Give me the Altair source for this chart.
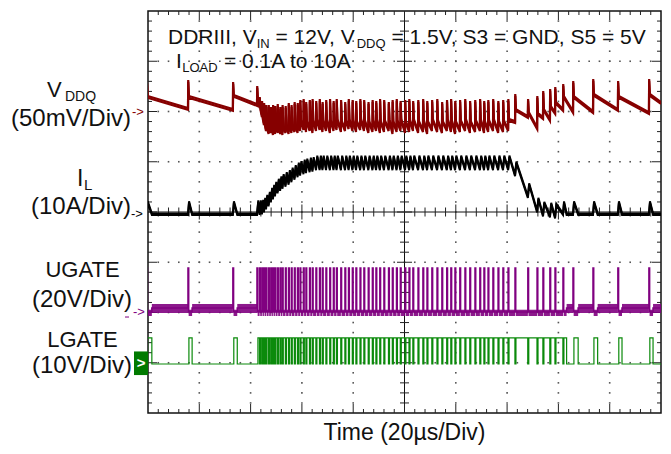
import altair as alt
import pandas as pd

# ---------------- scope settings ----------------
T_DOMAIN = [0, 200]          # µs (20 µs/div, 10 div)
Y_DOMAIN = [0, 8]            # divisions
US_PER_DIV = 20

VDDQ_REF, VDDQ_PER_DIV = 5.99, 50.0   # mV/div
IL_REF, IL_PER_DIV = 3.96, 10.0       # A/div
UG_REF, UG_PER_DIV = 2.01, 20.0       # V/div
LG_REF, LG_PER_DIV = 0.975, 10.0      # V/div

# ---------------- values ----------------
# UGATE pulse instants (µs)
pulse_t = [-0.5, 15.6, 33.1, 42.5, 43.5, 44.4, 45.2, 46.0, 47.0, 47.9, 48.7, 49.5,
           50.5, 51.5, 52.4, 53.6, 54.8, 55.9, 57.1, 58.3, 59.3, 60.6, 61.6, 63.0,
           64.1, 65.5, 66.9, 68.0, 69.4, 70.9, 72.3, 73.5, 75.2, 76.8, 78.2, 79.7,
           81.1, 82.7, 84.2, 85.9, 87.5, 88.9, 90.4, 92.0, 93.8, 95.3, 96.9, 98.4,
           100.2, 101.8, 103.3, 105.3, 107.2, 108.8, 110.7, 112.7, 114.6, 116.5, 118.1, 119.7,
           121.6, 123.6, 125.5, 127.5, 129.4, 131.0, 132.6, 134.5, 136.5, 138.4, 140.4, 143.1,
           148.1, 151.7, 154.0, 156.7, 158.7, 161.8, 165.7, 173.5, 183.2, 195.3]

# inductor current level at each pulse (A)
il_mean = [0, 0, 0, 1.3, 1.3, 1.4, 1.8, 2.4, 3.0, 3.8, 4.4, 5.0,
           5.6, 6.1, 6.5, 6.9, 7.3, 7.8, 8.3, 8.8, 9.1, 9.4, 9.6, 9.8,
           9.9, 10.2, 10.2, 10.2, 10.2, 10.2, 10.2, 10.2, 10.2, 10.2, 10.2, 10.2,
           10.2, 10.2, 10.2, 10.2, 10.2, 10.2, 10.2, 10.2, 10.2, 10.2, 10.2, 10.2,
           10.2, 10.2, 10.2, 10.2, 10.2, 10.2, 10.2, 10.2, 10.2, 10.2, 10.2, 10.2,
           10.2, 10.2, 10.2, 10.2, 10.2, 10.2, 10.2, 10.2, 10.2, 10.2, 10.2, 9.0,
           4.7, 1.8, 1.0, 0.8, 0.6, 0, 0, 0, 0, 0]

# LGATE on-time after each pulse (µs); 99 = stays on until the next pulse
lg_on = [2.0, 1.6, 1.7, 99, 99, 99, 99, 99, 99, 99, 99, 99,
         99, 99, 99, 99, 99, 99, 99, 99, 99, 99, 99, 99,
         99, 99, 99, 99, 99, 99, 99, 99, 99, 99, 99, 99,
         99, 99, 99, 99, 99, 99, 99, 99, 99, 99, 99, 99,
         99, 99, 99, 99, 99, 99, 99, 99, 99, 99, 99, 99,
         99, 99, 99, 99, 99, 99, 99, 99, 99, 99, 99, 99,
         99, 99, 99, 99, 99, 1.4, 2.0, 1.8, 1.6, 1.6]

# VDDQ deviation (mV): just before each pulse, spike top, just after the spike
vddq_pre = [5, 3, 2, 7, 5, -4, -12, -18,
            -21, -20, -22, -21, -20, -21, -22, -20, -21, -20, -19, -20,
            -18, -17, -19, -18, -20, -18, -17, -19, -18, -20,
            -18, -17, -19, -18, -16, -18, -19, -17, -18, -20,
            -19, -18, -20, -19, -18, -21, -19, -18, -20, -19,
            -18, -20, -19, -21, -18, -19, -20, -18, -19, -21,
            -19, -18, -20, -19, -18, -20, -19, -18, -20, -19, -18,
            -10, -5, -16, -6, -8, -1, 2, 0, 0, 2, -1]
vddq_pk = [30, 31, 29, 25, 14, 10, 8, 6,
           6, 4, 6, 5, 7, 4, 6, 5, 8, 6, 9, 8,
           11, 12, 9, 11, 12, 10, 12, 9, 11, 12,
           10, 12, 11, 9, 12, 11, 10, 12, 11, 9,
           11, 10, 12, 11, 9, 11, 12, 10, 11, 12,
           10, 11, 12, 10, 11, 12, 9, 11, 12, 10,
           11, 12, 10, 11, 12, 10, 11, 12, 10, 11, 12,
           17, 12, 15, 20, 22, 24, 27, 30, 32, 30, 32]
vddq_post = [15, 15, 16, 12, 3, -6, -12, -15,
             -14, -14, -15, -14, -13, -14, -15, -14, -13, -14, -13, -12,
             -9, -8, -10, -9, -9, -8, -10, -9, -8, -9,
             -9, -8, -10, -9, -8, -9, -10, -8, -9, -10,
             -9, -8, -10, -9, -8, -10, -9, -8, -10, -9,
             -8, -10, -9, -10, -8, -9, -10, -8, -9, -10,
             -9, -8, -10, -9, -8, -10, -9, -8, -10, -9, -8,
             2, -1, -2, 2, 5, 9, 15, 15, 17, 15, 17]
VDDQ_END = 9

UG_HIGH = 17.5       # V
UG_DCM_BASE = 1.6    # V (phase node floating at light load)
LG_HIGH = 5.2        # V
IL_RIPPLE = 1.3      # A (half peak-to-peak)
IL_DCM_PEAK = 2.4    # A

C_VDDQ, C_IL, C_UG, C_LG = "#860000", "#000000", "#800080", "#0b8a0b"
FONT = "Liberation Sans"

# ---------------- build traces from the pulse table ----------------
N = len(pulse_t)
UG_W = 0.25

vt, vv = [], []
it, iv = [], []
ut, uv = [], []
lt, lv = [], []
bands = []
for i in range(N):
    t = pulse_t[i]
    tn = pulse_t[i + 1] if i + 1 < N else T_DOMAIN[1]
    dcm = lg_on[i] < 99 and t + lg_on[i] < tn
    # VDDQ
    vt += [t, t + 0.08, t + 0.35]
    vv += [vddq_pre[i], vddq_pk[i], vddq_post[i]]
    # IL
    if lg_on[i] >= 99:
        it += [t, t + 0.5]
        iv += [il_mean[i] - IL_RIPPLE, il_mean[i] + IL_RIPPLE]
    else:
        it += [t, t + 0.4, t + lg_on[i]]
        iv += [0, IL_DCM_PEAK, 0]
    # UGATE
    prev = uv[-1] if uv else UG_DCM_BASE
    ut += [t, t, t + UG_W, t + UG_W]
    uv += [prev, UG_HIGH, UG_HIGH, 0]
    if dcm:
        te = t + lg_on[i]
        ut += [te, te]
        uv += [0, UG_DCM_BASE]
        bands.append((t + UG_W, te, -1.6, 0.9))
        bands.append((te, tn, -0.4, 3.2))
    else:
        bands.append((t + UG_W, tn, -1.6, 0.9))
    # LGATE
    prevl = lv[-1] if lv else 0
    t0, t1 = t - 0.05, t + UG_W + 0.1
    lt += [t0, t0, t1, t1]
    lv += [prevl, 0, 0, LG_HIGH]
    if dcm:
        te = t + lg_on[i]
        lt += [te, te]
        lv += [LG_HIGH, 0]

vt.append(T_DOMAIN[1]); vv.append(VDDQ_END)
it.append(T_DOMAIN[1]); iv.append(0)
ut.append(T_DOMAIN[1]); uv.append(uv[-1])
lt.append(T_DOMAIN[1]); lv.append(lv[-1])


def trace_df(ts, vals, ref, per_div):
    return pd.DataFrame({"t": ts, "y": [ref + v / per_div for v in vals], "i": range(len(ts))})


df_v = trace_df(vt, vv, VDDQ_REF, VDDQ_PER_DIV)
df_i = trace_df(it, iv, IL_REF, IL_PER_DIV)
df_u = trace_df(ut, uv, UG_REF, UG_PER_DIV)
df_l = trace_df(lt, lv, LG_REF, LG_PER_DIV)
df_b = pd.DataFrame({"t": [b[0] for b in bands], "t2": [b[1] for b in bands],
                     "y": [UG_REF + b[2] / UG_PER_DIV for b in bands],
                     "y2": [UG_REF + b[3] / UG_PER_DIV for b in bands]})

xs = alt.Scale(domain=T_DOMAIN, nice=False, zero=False)
ys = alt.Scale(domain=Y_DOMAIN, nice=False, zero=False)
X = lambda f: alt.X(f, type="quantitative", scale=xs, axis=None)
Y = lambda f: alt.Y(f, type="quantitative", scale=ys, axis=None)


def trace(df, color, sw, dy=0):
    return alt.Chart(df).mark_line(color=color, strokeWidth=sw, clip=True, yOffset=dy).encode(
        x=X("t"), y=Y("y"), order=alt.Order("i:Q"))


# ---------------- graticule ----------------
dots = []
for k in range(1, 10):
    if k != 5:
        dots += [(k * US_PER_DIV, j * 0.2) for j in range(1, 40)]
for k in range(1, 8):
    if k != 4:
        dots += [(j * US_PER_DIV / 5, k) for j in range(1, 50)]
df_dots = pd.DataFrame(dots, columns=["t", "y"])

ticks_v = []   # vertical ticks (along horizontal lines)
for yline, minor, major in [(4, 9, 15), (0, 8, 18), (8, 8, 18)]:
    for j in range(1, 50):
        ticks_v.append((j * US_PER_DIV / 5, yline, major if j % 5 == 0 else minor))
ticks_h = []   # horizontal ticks (along vertical lines)
for xline, minor, major in [(100, 9, 15), (0, 8, 18), (200, 8, 18)]:
    for j in range(1, 40):
        ticks_h.append((xline, j * 0.2, major if j % 5 == 0 else minor))
df_tv = pd.DataFrame(ticks_v, columns=["t", "y", "s"])
df_th = pd.DataFrame(ticks_h, columns=["t", "y", "s"])

GR = "#222222"
dots_l = alt.Chart(df_dots).mark_square(size=2.6, color="#555555", opacity=1).encode(x=X("t"), y=Y("y"))
tv_l = alt.Chart(df_tv).mark_tick(orient="vertical", color=GR, thickness=1, opacity=1, clip=True).encode(
    x=X("t"), y=Y("y"), size=alt.Size("s:Q", scale=None, legend=None))
th_l = alt.Chart(df_th).mark_tick(orient="horizontal", color=GR, thickness=1, opacity=1, clip=True).encode(
    x=X("t"), y=Y("y"), size=alt.Size("s:Q", scale=None, legend=None))
cross_df = pd.DataFrame({"t": [100, 0], "t2": [100, 200], "y": [0, 4], "y2": [8, 4]})
cross_l = alt.Chart(cross_df).mark_rule(color="#111111", strokeWidth=1).encode(
    x=X("t"), x2="t2", y=Y("y"), y2="y2")

# ---------------- traces ----------------
band_l = alt.Chart(df_b).mark_rect(color=C_UG, opacity=0.9, clip=True).encode(
    x=X("t"), x2="t2", y=Y("y"), y2="y2")
lg_l = trace(df_l, C_LG, 1.2)
ug_l = trace(df_u, C_UG, 1.6)
il_a = trace(df_i, C_IL, 2.0, -0.6)
il_b = trace(df_i, C_IL, 2.0, 0.9)
vd_a = trace(df_v, C_VDDQ, 2.2, -0.9)
vd_b = trace(df_v, C_VDDQ, 2.2, 0.9)


# ---------------- texts ----------------
def txt(s, x, y, size, color="#111111", align="left", weight="normal", baseline="alphabetic"):
    return alt.Chart(pd.DataFrame({"s": [s]})).mark_text(
        font=FONT, fontSize=size, color=color, align=align, baseline=baseline,
        fontWeight=weight, clip=False).encode(x=alt.value(x), y=alt.value(y), text="s:N")


def marker(s, ref, x, color, size=13):
    return alt.Chart(pd.DataFrame({"s": [s]})).mark_text(
        font=FONT, fontSize=size, color=color, align="left", baseline="middle", clip=False).encode(
        x=alt.value(x), y=alt.Y(datum=ref, scale=ys, axis=None), text="s:N")


texts = [
    # title block (inside the graticule)
    txt("DDRIII, V", 20, 33, 21), txt("IN", 108.7, 36.5, 13),
    txt("= 12V, V", 127.5, 33, 21), txt("DDQ", 208.7, 36.5, 13),
    txt("= 1.5V, S3 = GND, S5 = 5V", 243.4, 33, 21),
    txt("I", 28, 57, 21), txt("LOAD", 34.2, 60.5, 13), txt("= 0.1A to 10A", 76, 57, 21),
    # channel labels
    txt("V", -101, 86, 22), txt("DDQ", -83, 89.5, 14), txt("(50mV/Div)", -17, 115, 24, align="right"),
    txt("I", -71, 175, 23), txt("L", -64, 178.5, 15), txt("(10A/Div)", -17, 203, 24, align="right"),
    txt("UGATE", -65.5, 266, 22, align="center"), txt("(20V/Div)", -16, 296, 24, align="right"),
    txt("LGATE", -65.5, 336, 22, align="center"), txt("(10V/Div)", -16, 362, 24, align="right"),
    # time base
    txt("Time (20\u00b5s/Div)", 256.5, 429, 23, align="center"),
    # channel markers
    marker("->", VDDQ_REF, -16, C_VDDQ), marker("->", IL_REF, -17, "#000000"),
    marker("->", UG_REF, -15, C_UG),
]
ug_dash = alt.Chart(pd.DataFrame({"a": [0]})).mark_rule(color=C_UG, strokeWidth=1).encode(
    x=alt.value(-23), x2=alt.value(-19), y=alt.Y(datum=UG_REF - 0.1, scale=ys, axis=None))
box = alt.Chart(pd.DataFrame({"a": [0]})).mark_rect(color="#007a00", clip=False).encode(
    x=alt.value(-14), x2=alt.value(0),
    y=alt.Y(datum=LG_REF + 0.25, scale=ys, axis=None), y2=alt.Y2(datum=LG_REF - 0.22))
box_t = alt.Chart(pd.DataFrame({"s": [">"]})).mark_text(
    font=FONT, fontSize=15, fontWeight="bold", color="white", align="center", baseline="middle",
    clip=False).encode(x=alt.value(-7), y=alt.Y(datum=LG_REF + 0.02, scale=ys, axis=None), text="s:N")

chart = alt.layer(
    dots_l, cross_l, tv_l, th_l, band_l, lg_l, ug_l, il_a, il_b, vd_a, vd_b,
    ug_dash, box, box_t, *texts
).properties(
    width=513, height=402,
    autosize=alt.AutoSizeParams(type="none"),
    padding={"left": 140, "top": 3, "right": 2, "bottom": 33},
).configure_view(stroke="#111111", strokeWidth=1.5)

chart.save("out.html", embed_options={"renderer": "svg", "actions": False})
